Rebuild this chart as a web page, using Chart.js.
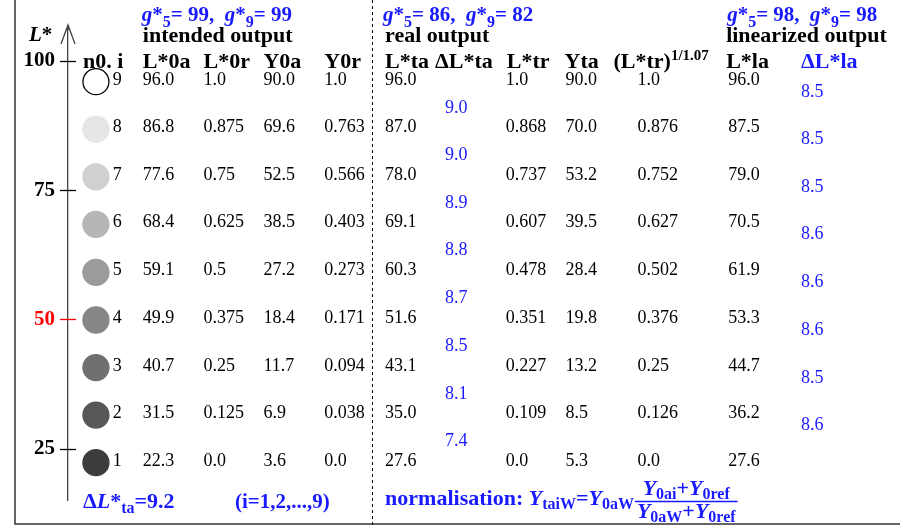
<!DOCTYPE html>
<html>
<head>
<meta charset="utf-8">
<script src="https://cdn.jsdelivr.net/npm/chart.js@4.4.1/dist/chart.umd.min.js"></script>
<style>
  html, body { margin: 0; padding: 0; background: #fff; }
  #wrap { width: 900px; height: 526px; }
</style>
</head>
<body>
<div id="wrap"><canvas id="lchart" width="900" height="526"></canvas></div>
<script>
// grey steps i = 9 .. 1, values
const steps  = [9, 8, 7, 6, 5, 4, 3, 2, 1];
const L0a    = [96.0, 86.8, 77.6, 68.4, 59.1, 49.9, 40.7, 31.5, 22.3];
const L0r    = [1.0, 0.875, 0.75, 0.625, 0.5, 0.375, 0.25, 0.125, 0.0];
const Y0a    = [90.0, 69.6, 52.5, 38.5, 27.2, 18.4, 11.7, 6.9, 3.6];
const Y0r    = [1.0, 0.763, 0.566, 0.403, 0.273, 0.171, 0.094, 0.038, 0.0];
const Lta    = [96.0, 87.0, 78.0, 69.1, 60.3, 51.6, 43.1, 35.0, 27.6];
const dLta   = [9.0, 9.0, 8.9, 8.8, 8.7, 8.5, 8.1, 7.4];
const Ltr    = [1.0, 0.868, 0.737, 0.607, 0.478, 0.351, 0.227, 0.109, 0.0];
const Yta    = [90.0, 70.0, 53.2, 39.5, 28.4, 19.8, 13.2, 8.5, 5.3];
const LtrExp = [1.0, 0.876, 0.752, 0.627, 0.502, 0.376, 0.25, 0.126, 0.0];
const Lla    = [96.0, 87.5, 79.0, 70.5, 61.9, 53.3, 44.7, 36.2, 27.6];
const dLla   = [8.5, 8.5, 8.5, 8.6, 8.6, 8.6, 8.5, 8.6];
const yTicks = [25, 50, 75, 100];

// looks
const grays = ['#ffffff', '#e6e6e6', '#d0d0d0', '#b6b6b6', '#9b9b9b', '#878787', '#707070', '#575757', '#3c3c3c'];
const BLUE = '#1a1aff';
const SERIF = '"Liberation Serif", "Times New Roman", serif';
const B  = s => `bold ${s}px ${SERIF}`;
const BI = s => `italic bold ${s}px ${SERIF}`;
const R  = s => `${s}px ${SERIF}`;
const HEAD = 22;   // bold header size
const CELL = 18;   // table value size

// column left edges, in x-scale units (x scale == canvas px here)
const DOT_X = 96;
const colX = { i: 113, L0a: 143, L0r: 204, Y0a: 264, Y0r: 325, Lta: 386, dLta: 446,
               Ltr: 507, Yta: 567, Lexp: 639, Lla: 730, dLla: 803 };
const headX = { dLta: 436, Ltr: 508, Yta: 566, Lexp: 615, Lla: 728 };
const DIVIDER_X = 373;

const fmt = v => Number.isInteger(v) ? v.toFixed(1) : String(v);

// draw a run of differently styled text pieces, returns end x
function runs(ctx, x, y, parts, color) {
  ctx.fillStyle = color;
  ctx.textAlign = 'left';
  ctx.textBaseline = 'alphabetic';
  parts.forEach(p => {
    ctx.font = p.f;
    ctx.fillText(p.t, x, y + (p.dy || 0));
    x += ctx.measureText(p.t).width;
  });
  return x;
}
function runsWidth(ctx, parts) {
  return parts.reduce((w, p) => { ctx.font = p.f; return w + ctx.measureText(p.t).width; }, 0);
}

const gLine = (a, b) => [
  { t: 'g', f: BI(21) }, { t: '*', f: B(21) }, { t: '5', f: B(16), dy: 6 },
  { t: `= ${a},  `, f: B(21) },
  { t: 'g', f: BI(21) }, { t: '*', f: B(21) }, { t: '9', f: B(16), dy: 6 },
  { t: `= ${b}`, f: B(21) }
];

const framePlugin = {
  id: 'frame',
  beforeDatasetsDraw(chart) {
    const { ctx, chartArea } = chart;
    const x = chart.scales.x;
    ctx.save();
    // outer frame (left + bottom)
    ctx.strokeStyle = '#333';
    ctx.lineWidth = 1.5;
    ctx.beginPath();
    ctx.moveTo(chartArea.left - 53, 0);
    ctx.lineTo(chartArea.left - 53, 524);
    ctx.lineTo(chart.width, 524);
    ctx.stroke();
    // dashed divider
    ctx.strokeStyle = '#000';
    ctx.lineWidth = 1;
    ctx.setLineDash([3, 3]);
    const dx = Math.round(x.getPixelForValue(DIVIDER_X)) + 0.5;
    ctx.beginPath();
    ctx.moveTo(dx, 0);
    ctx.lineTo(dx, chart.height);
    ctx.stroke();
    ctx.setLineDash([]);
    // axis arrow and crossing tick marks
    const y = chart.scales.y;
    const ax = chartArea.left;
    ctx.strokeStyle = '#444';
    ctx.lineWidth = 1.3;
    ctx.beginPath();
    ctx.moveTo(ax, chartArea.top);
    ctx.lineTo(ax, 25);
    ctx.moveTo(ax - 7, 44);
    ctx.lineTo(ax, 25);
    ctx.lineTo(ax + 7, 44);
    ctx.stroke();
    yTicks.forEach(v => {
      const py = Math.round(y.getPixelForValue(v)) + 0.5;
      ctx.strokeStyle = v === 50 ? '#ff0000' : '#000';
      ctx.beginPath();
      ctx.moveTo(ax - 8, py);
      ctx.lineTo(ax + 8, py);
      ctx.stroke();
    });
    ctx.restore();
  }
};

const tablePlugin = {
  id: 'table',
  afterDatasetsDraw(chart) {
    const { ctx } = chart;
    const x = chart.scales.x, y = chart.scales.y;
    const px = v => x.getPixelForValue(v);
    ctx.save();

    // axis label
    runs(ctx, 29, 41, [{ t: 'L', f: BI(21) }, { t: '*', f: B(21) }], '#000');

    // group titles
    runs(ctx, px(colX.L0a) - 1, 21, gLine(99, 99), BLUE);
    runs(ctx, px(colX.Lta) - 2, 21, gLine(86, 82), BLUE);
    runs(ctx, px(colX.Lla) - 1, 21, gLine(98, 98), BLUE);
    runs(ctx, px(colX.L0a), 42, [{ t: 'intended output', f: B(HEAD) }], '#000');
    runs(ctx, px(colX.Lta), 42, [{ t: 'real output', f: B(HEAD) }], '#000');
    runs(ctx, px(headX.Lla), 42, [{ t: 'linearized output', f: B(HEAD) }], '#000');

    // column headers
    const hy = 68;
    runs(ctx, 83, hy, [{ t: 'n0. i', f: B(HEAD) }], '#000');
    runs(ctx, px(colX.L0a), hy, [{ t: 'L*0a', f: B(HEAD) }], '#000');
    runs(ctx, px(colX.L0r), hy, [{ t: 'L*0r', f: B(HEAD) }], '#000');
    runs(ctx, px(colX.Y0a), hy, [{ t: 'Y0a', f: B(HEAD) }], '#000');
    runs(ctx, px(colX.Y0r), hy, [{ t: 'Y0r', f: B(HEAD) }], '#000');
    runs(ctx, px(colX.Lta), hy, [{ t: 'L*ta', f: B(HEAD) }], '#000');
    runs(ctx, px(headX.dLta), hy, [{ t: '\u0394L*ta', f: B(HEAD) }], '#000');
    runs(ctx, px(headX.Ltr), hy, [{ t: 'L*tr', f: B(HEAD) }], '#000');
    runs(ctx, px(headX.Yta), hy, [{ t: 'Yta', f: B(HEAD) }], '#000');
    runs(ctx, px(headX.Lexp), hy, [{ t: '(L*tr)', f: B(HEAD) }, { t: '1/1.07', f: B(15), dy: -8 }], '#000');
    runs(ctx, px(headX.Lla), hy, [{ t: 'L*la', f: B(HEAD) }], '#000');
    runs(ctx, px(colX.dLla), hy, [{ t: '\u0394L*la', f: B(HEAD) }], BLUE);

    // rows
    const cols = [['L0a', L0a], ['L0r', L0r], ['Y0a', Y0a], ['Y0r', Y0r], ['Lta', Lta],
                  ['Ltr', Ltr], ['Yta', Yta], ['Lexp', LtrExp], ['Lla', Lla]];
    steps.forEach((s, r) => {
      const cy = y.getPixelForValue(L0a[r]);
      runs(ctx, px(colX.i), cy + 3, [{ t: String(s), f: R(CELL) }], '#000');
      cols.forEach(([k, arr]) => {
        runs(ctx, px(colX[k]), cy + 3, [{ t: fmt(arr[r]), f: R(CELL) }], '#000');
      });
      if (r < dLta.length) {
        runs(ctx, px(colX.dLta), cy + 31, [{ t: fmt(dLta[r]), f: R(CELL) }], BLUE);
        runs(ctx, px(colX.dLla), cy + 15, [{ t: fmt(dLla[r]), f: R(CELL) }], BLUE);
      }
    });

    // footer
    runs(ctx, 83, 508, [
      { t: '\u0394', f: B(HEAD) }, { t: 'L', f: BI(HEAD) }, { t: '*', f: B(HEAD) },
      { t: 'ta', f: B(16), dy: 5 }, { t: '=9.2', f: B(HEAD) }
    ], BLUE);
    runs(ctx, 235, 508, [{ t: '(i=1,2,...,9)', f: B(21) }], BLUE);

    let nx = runs(ctx, px(colX.Lta), 505, [
      { t: 'normalisation: ', f: B(HEAD) },
      { t: 'Y', f: BI(HEAD) }, { t: 'taiW', f: B(16), dy: 4 }, { t: '=', f: B(HEAD) },
      { t: 'Y', f: BI(HEAD) }, { t: '0aW', f: B(16), dy: 4 }
    ], BLUE) + 3;
    const num = [{ t: 'Y', f: BI(HEAD) }, { t: '0ai', f: B(16), dy: 4 }, { t: '+', f: B(HEAD) },
                 { t: 'Y', f: BI(HEAD) }, { t: '0ref', f: B(16), dy: 4 }];
    const den = [{ t: 'Y', f: BI(HEAD) }, { t: '0aW', f: B(16), dy: 4 }, { t: '+', f: B(HEAD) },
                 { t: 'Y', f: BI(HEAD) }, { t: '0ref', f: B(16), dy: 4 }];
    const nw = runsWidth(ctx, num), dw = runsWidth(ctx, den);
    const fw = Math.max(nw, dw);
    runs(ctx, nx + (fw - nw) / 2, 495, num, BLUE);
    runs(ctx, nx + (fw - dw) / 2, 518, den, BLUE);
    ctx.strokeStyle = BLUE;
    ctx.lineWidth = 1.5;
    ctx.beginPath();
    ctx.moveTo(nx - 2, 501.5);
    ctx.lineTo(nx + fw + 2, 501.5);
    ctx.stroke();

    ctx.restore();
  }
};

new Chart(document.getElementById('lchart'), {
  type: 'scatter',
  data: {
    datasets: [{
      data: L0a.map(v => ({ x: DOT_X, y: v })),
      pointRadius: 13,
      pointHoverRadius: 13,
      pointBackgroundColor: grays,
      pointBorderColor: grays.map((g, i) => i === 0 ? '#000' : g),
      pointBorderWidth: 1.3,
      clip: false
    }]
  },
  options: {
    responsive: false,
    animation: false,
    events: [],
    layout: { padding: { top: 30, bottom: 18, left: 15, right: 12 } },
    plugins: { legend: { display: false }, tooltip: { enabled: false } },
    scales: {
      x: { type: 'linear', display: false, min: 68, max: 888 },
      y: {
        type: 'linear',
        min: 15,
        max: 106,
        afterFit: s => { s.width = 53; },
        afterBuildTicks: s => { s.ticks = yTicks.map(v => ({ value: v })); },
        grid: { drawOnChartArea: false, drawTicks: false },
        border: { display: true, color: '#444', width: 1.3 },
        ticks: {
          autoSkip: false,
          padding: 13,
          font: { family: SERIF, size: 21, weight: 'bold' },
          color: c => c.tick && c.tick.value === 50 ? '#ff0000' : '#000'
        }
      }
    }
  },
  plugins: [framePlugin, tablePlugin]
});
</script>
</body>
</html>
